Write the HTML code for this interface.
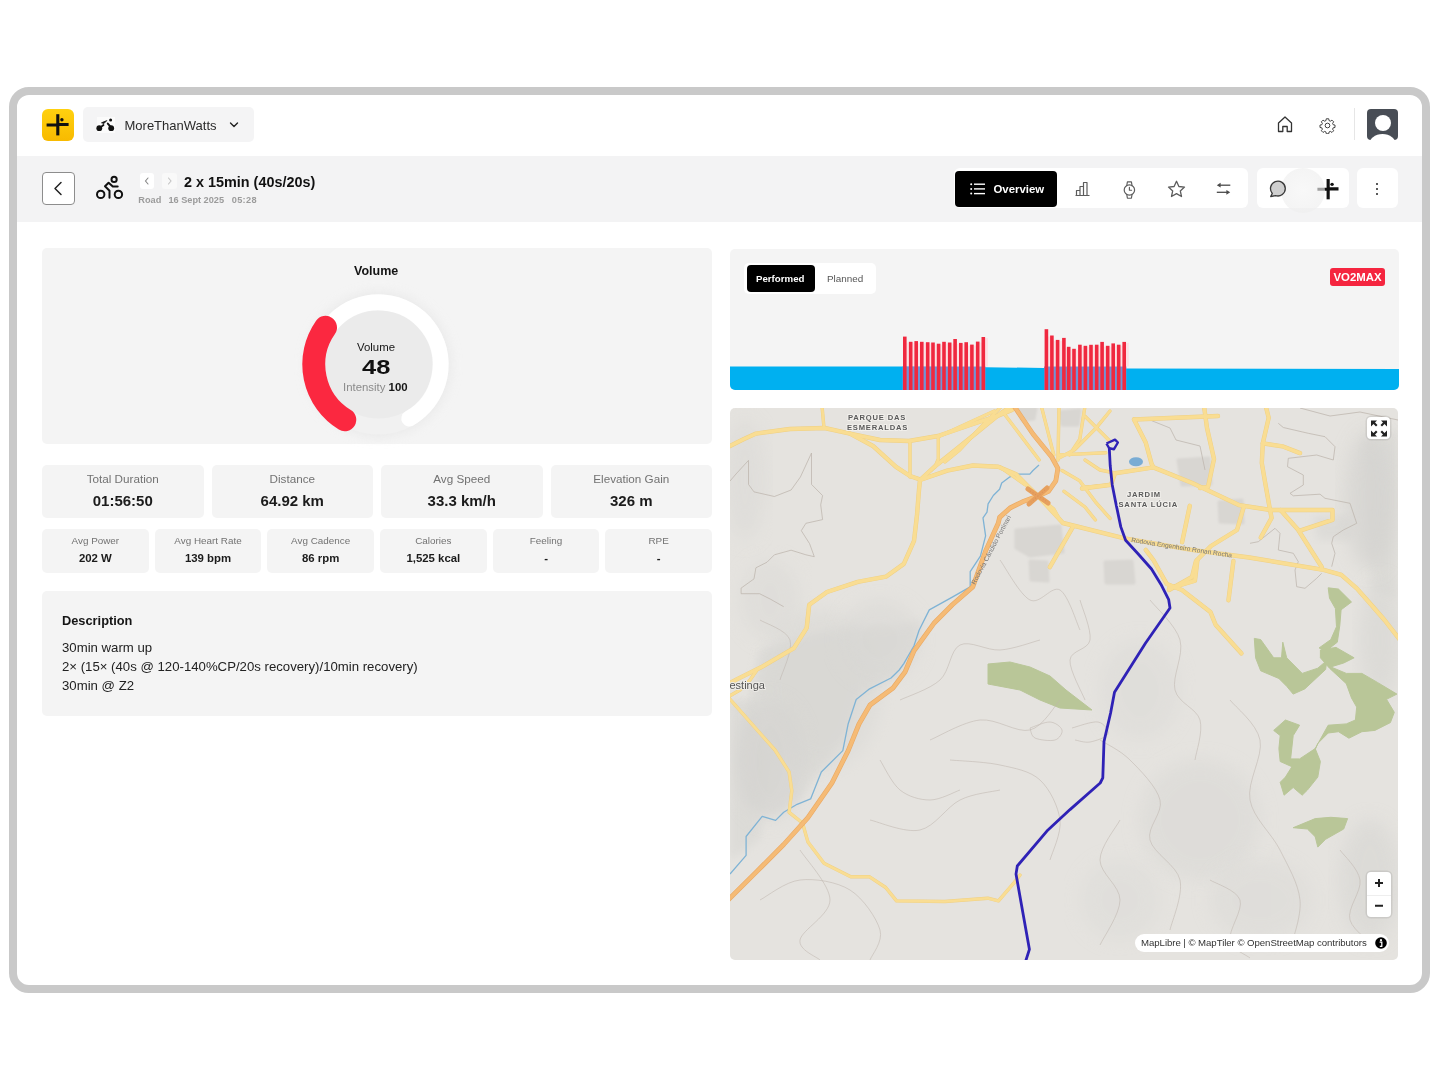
<!DOCTYPE html>
<html><head><meta charset="utf-8">
<style>
*{box-sizing:border-box;margin:0;padding:0}
html,body{width:1440px;height:1080px;overflow:hidden;background:#fff;font-family:"Liberation Sans",Arial,sans-serif;color:#1b1b1b}
.a{position:absolute}
#frame{left:9px;top:87px;width:1421px;height:906px;border:8px solid #c9c9c9;border-radius:20px;background:#fff}
.card{background:#f4f4f4;border-radius:5px}
.t{white-space:nowrap;line-height:1}
.sc .l{position:absolute;left:0;right:0;text-align:center;color:#727272;white-space:nowrap;line-height:1}
.sc .v{position:absolute;left:0;right:0;text-align:center;color:#1b1b1b;font-weight:700;white-space:nowrap;line-height:1}
</style></head><body>
<div id="frame" class="a"></div>

<!-- header -->
<div class="a" style="left:42px;top:109px;width:31.5px;height:31.5px;border-radius:6px;background:linear-gradient(#ffd10f,#f8ba00)"></div>
<svg class="a" style="left:42px;top:109px" width="32" height="32" viewBox="0 0 32 32">
 <path d="M15.8 5.2 V26.4" stroke="#111" stroke-width="3.1" fill="none"/>
 <path d="M4.6 15.9 H15 M16.5 15.5 H26.6" stroke="#111" stroke-width="3" fill="none"/>
 <circle cx="19.9" cy="10.8" r="1.7" fill="#111"/>
</svg>

<div class="a" style="left:83px;top:107px;width:171px;height:35px;border-radius:5px;background:#f4f4f5"></div>
<div class="a" style="left:97px;top:117px;width:18px;height:16px;background:#fbfbfb"></div>
<svg class="a" style="left:94px;top:116px" width="22" height="18" viewBox="94 116 22 18">
 <circle cx="99.3" cy="128.2" r="2.9" fill="#111"/><circle cx="111.2" cy="128.2" r="2.9" fill="#111"/>
 <circle cx="110.6" cy="120" r="1.5" fill="#111"/>
 <path d="M101.5 122.8 L106.8 120.6 L104 123.5 Z" fill="#111" stroke="#111" stroke-width="0.8" stroke-linejoin="round"/>
 <path d="M99.3 128.2 L103.5 125" stroke="#111" stroke-width="1.8" stroke-linecap="round"/>
 <path d="M107.8 123.6 L110 126.2" stroke="#111" stroke-width="2" stroke-linecap="round"/>
</svg>
<div class="a t" style="left:124.5px;top:118.6px;font-size:13px;color:#2a2a2a">MoreThanWatts</div>
<svg class="a" style="left:229px;top:121px" width="10" height="8" viewBox="0 0 10 8"><path d="M1.5 2 L5 5.5 L8.5 2" stroke="#222" stroke-width="1.4" fill="none" stroke-linecap="round" stroke-linejoin="round"/></svg>

<svg class="a" style="left:1276px;top:115px" width="18" height="18" viewBox="0 0 18 18"><path d="M2.5 16.5 V8 L9 2 L15.5 8 V16.5 H11.2 V11.5 H6.8 V16.5 Z" stroke="#333" stroke-width="1.3" fill="none" stroke-linejoin="round"/></svg>
<svg class="a" style="left:1318.5px;top:116.5px" width="17" height="17" viewBox="0 0 24 24"><path d="M10.3 2.5h3.4l.5 2.6 1.9.8 2.2-1.5 2.4 2.4-1.5 2.2.8 1.9 2.6.5v3.4l-2.6.5-.8 1.9 1.5 2.2-2.4 2.4-2.2-1.5-1.9.8-.5 2.6h-3.4l-.5-2.6-1.9-.8-2.2 1.5-2.4-2.4 1.5-2.2-.8-1.9-2.6-.5v-3.4l2.6-.5.8-1.9-1.5-2.2 2.4-2.4 2.2 1.5 1.9-.8z" stroke="#333" stroke-width="1.3" fill="none" stroke-linejoin="round"/><circle cx="12" cy="12" r="3.3" stroke="#333" stroke-width="1.3" fill="none"/></svg>
<div class="a" style="left:1354px;top:108px;width:1px;height:32px;background:#e6e6e6"></div>
<div class="a" style="left:1367px;top:109px;width:31px;height:31px;border-radius:4px;background:#484d55;overflow:hidden">
 <div class="a" style="left:8px;top:6px;width:16px;height:16px;border-radius:50%;background:#fff"></div>
 <div class="a" style="left:2px;top:25px;width:27px;height:22px;border-radius:50%;background:#fff"></div>
</div>

<!-- subheader band -->
<div class="a" style="left:17px;top:155.5px;width:1405px;height:66.5px;background:#f3f3f4"></div>
<div class="a" style="left:42px;top:172px;width:33px;height:33px;border:1.2px solid #8d8d8d;border-radius:4px;background:#fff"></div>
<svg class="a" style="left:42px;top:172px" width="33" height="33" viewBox="0 0 33 33"><path d="M19 10.5 L13 16.5 L19 22.5" stroke="#222" stroke-width="1.5" fill="none" stroke-linecap="round" stroke-linejoin="round"/></svg>
<svg class="a" style="left:94px;top:174px" width="30" height="28" viewBox="94 174 30 28">
 <circle cx="100.7" cy="194.4" r="3.7" stroke="#111" stroke-width="2" fill="none"/>
 <circle cx="118.4" cy="194.4" r="3.7" stroke="#111" stroke-width="2" fill="none"/>
 <circle cx="114.1" cy="179.4" r="2.6" stroke="#111" stroke-width="2" fill="none"/>
 <path d="M109.5 197.7 V190.8 L105 186.3 L108.6 182.7 L112.8 186.6 H117.7" stroke="#111" stroke-width="2" fill="none" stroke-linecap="round" stroke-linejoin="round"/>
</svg>
<div class="a" style="left:140px;top:173px;width:14px;height:16px;border-radius:3px;background:#fff"></div>
<svg class="a" style="left:140px;top:173px" width="14" height="16" viewBox="0 0 14 16"><path d="M8 5 L5.5 8 L8 11" stroke="#888" stroke-width="1.1" fill="none" stroke-linecap="round"/></svg>
<div class="a" style="left:162px;top:173px;width:15px;height:16px;border-radius:3px;background:#f9f9f9"></div>
<svg class="a" style="left:162px;top:173px" width="15" height="16" viewBox="0 0 15 16"><path d="M6.5 5 L9 8 L6.5 11" stroke="#c4c4c4" stroke-width="1.1" fill="none" stroke-linecap="round"/></svg>
<div class="a t" style="left:184px;top:175px;font-size:14.4px;font-weight:700;color:#111">2 x 15min (40s/20s)</div>
<div class="a t" style="left:138.3px;top:195.6px;font-size:9.2px;font-weight:700;color:#9b9b9b">Road</div><div class="a t" style="left:168.4px;top:195.6px;font-size:9.2px;font-weight:700;color:#9b9b9b">16 Sept 2025</div><div class="a t" style="left:231.8px;top:195.6px;font-size:9.2px;font-weight:700;color:#9b9b9b;letter-spacing:0.3px">05:28</div>

<!-- tabs -->
<div class="a" style="left:954px;top:168px;width:294px;height:40px;border-radius:6px;background:#fff"></div>
<div class="a" style="left:955px;top:171px;width:102px;height:35.5px;border-radius:4px;background:#000"></div>
<svg class="a" style="left:969px;top:181px" width="18" height="16" viewBox="0 0 18 16">
 <g fill="#fff"><circle cx="2.2" cy="3.2" r="1"/><circle cx="2.2" cy="7.9" r="1"/><circle cx="2.2" cy="12.6" r="1"/></g>
 <g stroke="#fff" stroke-width="1.4"><path d="M5 3.2 H16"/><path d="M5 7.9 H16"/><path d="M5 12.6 H16"/></g>
</svg>
<div class="a t" style="left:993.5px;top:184px;font-size:11.4px;font-weight:700;color:#fff">Overview</div>
<svg class="a" style="left:1074px;top:181px" width="17" height="16" viewBox="0 0 17 16"><path d="M1.5 14.5 H15.5 M2.5 14.5 V9.5 H6 V14.5 M6 14.5 V5.5 H9.5 V14.5 M9.5 14.5 V1.5 H13 V14.5" stroke="#5c5c5c" stroke-width="1.2" fill="none" stroke-linejoin="round"/></svg>
<svg class="a" style="left:1121px;top:179.5px" width="16" height="20" viewBox="0 0 16 20"><circle cx="8.4" cy="10" r="5.2" stroke="#5c5c5c" stroke-width="1.2" fill="none"/><path d="M5.7 5.8 L6.4 1.8 H10.4 L11.1 5.8 M5.7 14.2 L6.4 18.2 H10.4 L11.1 14.2 M8.4 7.4 V10.2 H10.6" stroke="#5c5c5c" stroke-width="1.15" fill="none" stroke-linejoin="round" stroke-linecap="round"/></svg>
<svg class="a" style="left:1167px;top:180px" width="19" height="18" viewBox="0 0 19 18"><path d="M9.5 1.3 L11.9 6.5 L17.5 7.1 L13.3 10.9 L14.5 16.5 L9.5 13.6 L4.5 16.5 L5.7 10.9 L1.5 7.1 L7.1 6.5 Z" stroke="#5c5c5c" stroke-width="1.3" fill="none" stroke-linejoin="round"/></svg>
<svg class="a" style="left:1215px;top:182px" width="17" height="15" viewBox="0 0 17 15"><path d="M15.3 3.2 H4" stroke="#4a4a4a" stroke-width="1.3"/><path d="M1.8 3.2 L5.6 0.8 V5.6 Z" fill="#4a4a4a"/><path d="M1.8 10.3 H13" stroke="#4a4a4a" stroke-width="1.3"/><path d="M15.2 10.3 L11.4 7.9 V12.7 Z" fill="#4a4a4a"/></svg>

<div class="a" style="left:1257px;top:168px;width:92px;height:40px;border-radius:6px;background:#fff"></div>
<!--chat-->

<svg class="a" style="left:1312.6px;top:173.7px" width="30.7" height="30.7" viewBox="0 0 32 32">
 <path d="M15.8 5.2 V26.4" stroke="#111" stroke-width="3.3" fill="none"/>
 <path d="M4.6 15.9 H15 M16.5 15.5 H26.6" stroke="#111" stroke-width="3.2" fill="none"/>
 <circle cx="19.9" cy="10.8" r="1.8" fill="#111"/>
</svg>
<div class="a" style="left:1281px;top:168px;width:44px;height:45px;border-radius:50%;background:radial-gradient(circle,rgba(244,244,244,0.62) 0%,rgba(238,238,238,0.65) 72%,rgba(215,215,215,0.8) 100%)"></div>
<svg class="a" style="left:1262px;top:175px" width="30" height="26" viewBox="1262 175 30 26"><path d="M1272.3 193.4 A7.4 7.4 0 1 1 1275.6 195.6 L1270.7 196.5 Z" stroke="#3a3a3a" stroke-width="1.3" fill="#cfcfcf" stroke-linejoin="round"/></svg>
<div class="a" style="left:1357px;top:168px;width:41px;height:40px;border-radius:6px;background:#fff"></div>
<div class="a" style="left:1375.5px;top:182.5px;width:2px;height:2px;border-radius:1px;background:#222;box-shadow:0 5px 0 #222,0 10px 0 #222"></div>

<!-- LEFT COLUMN -->
<div class="a card" style="left:42px;top:248px;width:670px;height:196px"></div>
<div class="a t" style="left:354px;top:265px;font-size:12.5px;font-weight:700;color:#141414">Volume</div>
<!-- gauge -->
<svg class="a" style="left:288px;top:274px" width="182" height="182" viewBox="0 0 182 182">
 <defs><filter id="gs" x="-30%" y="-30%" width="160%" height="160%"><feGaussianBlur stdDeviation="6"/></filter></defs>
 <circle cx="90.5" cy="90.5" r="72" fill="#e4e4e4" filter="url(#gs)" opacity="0.7"/>
 <circle cx="90.5" cy="90.5" r="70" fill="#f1f1f1"/>
 <circle cx="90.5" cy="90.5" r="54" fill="#ebebeb"/>
 <path d="M52.21 139.51 A62.2 62.2 0 1 1 121.32 144.53" stroke="#fff" stroke-width="16" fill="none" stroke-linecap="round"/>
<path d="M56.79 145.72 A64.7 64.7 0 0 1 37.50 53.39" stroke="#fb2840" stroke-width="23" fill="none" stroke-linecap="round"/>
</svg>
<div class="a t" style="left:357px;top:342px;font-size:11.4px;color:#161616">Volume</div>
<div class="a t" style="left:362px;top:357.5px;font-size:19.6px;font-weight:700;color:#111;transform:scaleX(1.3);transform-origin:0 0">48</div>
<div class="a t" style="left:343px;top:382px;font-size:11.4px;color:#8a8a8a">Intensity <span style="color:#161616;font-weight:700">100</span></div>

<!-- stat cards row 1 -->
<div class="a card sc" style="left:42px;top:464.5px;width:161.5px;height:53px"><div class="l" style="top:8.3px;font-size:11.7px">Total Duration</div><div class="v" style="top:28.3px;font-size:15px">01:56:50</div></div>
<div class="a card sc" style="left:211.5px;top:464.5px;width:161.5px;height:53px"><div class="l" style="top:8.3px;font-size:11.7px">Distance</div><div class="v" style="top:28.3px;font-size:15px">64.92 km</div></div>
<div class="a card sc" style="left:381px;top:464.5px;width:161.5px;height:53px"><div class="l" style="top:8.3px;font-size:11.7px">Avg Speed</div><div class="v" style="top:28.3px;font-size:15px">33.3 km/h</div></div>
<div class="a card sc" style="left:550.5px;top:464.5px;width:161.5px;height:53px"><div class="l" style="top:8.3px;font-size:11.7px">Elevation Gain</div><div class="v" style="top:28.3px;font-size:15px">326 m</div></div>
<!-- row 2 -->
<div class="a card sc" style="left:42px;top:528.5px;width:106.7px;height:44px"><div class="l" style="top:7.5px;font-size:9.9px">Avg Power</div><div class="v" style="top:24.2px;font-size:11.4px">202 W</div></div>
<div class="a card sc" style="left:154.7px;top:528.5px;width:106.7px;height:44px"><div class="l" style="top:7.5px;font-size:9.9px">Avg Heart Rate</div><div class="v" style="top:24.2px;font-size:11.4px">139 bpm</div></div>
<div class="a card sc" style="left:267.3px;top:528.5px;width:106.7px;height:44px"><div class="l" style="top:7.5px;font-size:9.9px">Avg Cadence</div><div class="v" style="top:24.2px;font-size:11.4px">86 rpm</div></div>
<div class="a card sc" style="left:380px;top:528.5px;width:106.7px;height:44px"><div class="l" style="top:7.5px;font-size:9.9px">Calories</div><div class="v" style="top:24.2px;font-size:11.4px">1,525 kcal</div></div>
<div class="a card sc" style="left:492.7px;top:528.5px;width:106.7px;height:44px"><div class="l" style="top:7.5px;font-size:9.9px">Feeling</div><div class="v" style="top:24.2px;font-size:11.4px">-</div></div>
<div class="a card sc" style="left:605.3px;top:528.5px;width:106.7px;height:44px"><div class="l" style="top:7.5px;font-size:9.9px">RPE</div><div class="v" style="top:24.2px;font-size:11.4px">-</div></div>

<!-- description -->
<div class="a card" style="left:42px;top:590.5px;width:670px;height:125px"></div>
<div class="a t" style="left:62px;top:614.8px;font-size:12.8px;font-weight:700;color:#151515">Description</div>
<div class="a" style="left:62px;top:639.3px;font-size:13.2px;line-height:18.7px;color:#222;white-space:nowrap">30min warm up<br>2× (15× (40s @ 120-140%CP/20s recovery)/10min recovery)<br>30min @ Z2</div>

<!-- RIGHT COLUMN: chart -->
<div class="a card" style="left:730px;top:248.5px;width:669px;height:141px;overflow:hidden;border-radius:5px">
<svg class="a" style="left:0;top:0" width="669" height="141" viewBox="730 248.5 669 141">
<polygon points="730,366 902,366 986,366.8 1044,367.4 1127,368 1399,368.4 1399,390 730,390" fill="#00b0f0"/>
<rect x="906.4" y="342.3" width="3" height="23.7" fill="#fbe1e5"/>
<rect x="912.3" y="342.3" width="3" height="23.7" fill="#fbe1e5"/>
<rect x="917.8" y="342.3" width="3" height="23.7" fill="#fbe1e5"/>
<rect x="923.4" y="342.7" width="3" height="23.3" fill="#fbe1e5"/>
<rect x="929.3" y="343" width="3" height="23" fill="#fbe1e5"/>
<rect x="934.6" y="344.2" width="3" height="21.8" fill="#fbe1e5"/>
<rect x="940.2" y="344.2" width="3" height="21.8" fill="#fbe1e5"/>
<rect x="945.6" y="343" width="3" height="23" fill="#fbe1e5"/>
<rect x="951.3" y="343" width="3" height="23" fill="#fbe1e5"/>
<rect x="956.7" y="343.4" width="3" height="22.6" fill="#fbe1e5"/>
<rect x="962.4" y="343.4" width="3" height="22.6" fill="#fbe1e5"/>
<rect x="967.8" y="345.1" width="3" height="20.9" fill="#fbe1e5"/>
<rect x="973.5" y="345.1" width="3" height="20.9" fill="#fbe1e5"/>
<rect x="979.3" y="342.1" width="3" height="23.9" fill="#fbe1e5"/>
<rect x="984.9" y="337.5" width="3" height="28.5" fill="#fbe1e5"/>
<rect x="902.5" y="366" width="83" height="24" fill="#7193d6"/>
<rect x="903" y="336.1" width="3.6" height="53.9" fill="#f0283f"/>
<rect x="908.9" y="341.3" width="3.6" height="48.7" fill="#f0283f"/>
<rect x="914.4" y="340.6" width="3.6" height="49.4" fill="#f0283f"/>
<rect x="920" y="341.3" width="3.6" height="48.7" fill="#f0283f"/>
<rect x="925.9" y="341.7" width="3.6" height="48.3" fill="#f0283f"/>
<rect x="931.2" y="342" width="3.6" height="48" fill="#f0283f"/>
<rect x="936.8" y="343.2" width="3.6" height="46.8" fill="#f0283f"/>
<rect x="942.2" y="341.3" width="3.6" height="48.7" fill="#f0283f"/>
<rect x="947.9" y="342" width="3.6" height="48" fill="#f0283f"/>
<rect x="953.3" y="338.5" width="3.6" height="51.5" fill="#f0283f"/>
<rect x="959" y="342.4" width="3.6" height="47.6" fill="#f0283f"/>
<rect x="964.4" y="341.7" width="3.6" height="48.3" fill="#f0283f"/>
<rect x="970.1" y="344.1" width="3.6" height="45.9" fill="#f0283f"/>
<rect x="975.9" y="341.1" width="3.6" height="48.9" fill="#f0283f"/>
<rect x="981.5" y="336.5" width="3.6" height="53.5" fill="#f0283f"/>
<rect x="1048" y="336" width="3" height="30" fill="#fbe1e5"/>
<rect x="1053.5" y="340.4" width="3" height="25.6" fill="#fbe1e5"/>
<rect x="1059.2" y="340.4" width="3" height="25.6" fill="#fbe1e5"/>
<rect x="1065.5" y="347.3" width="3" height="18.7" fill="#fbe1e5"/>
<rect x="1070.3" y="349.3" width="3" height="16.7" fill="#fbe1e5"/>
<rect x="1075.6" y="349.3" width="3" height="16.7" fill="#fbe1e5"/>
<rect x="1081.5" y="346.3" width="3" height="19.7" fill="#fbe1e5"/>
<rect x="1087" y="346.3" width="3" height="19.7" fill="#fbe1e5"/>
<rect x="1092.6" y="345.3" width="3" height="20.7" fill="#fbe1e5"/>
<rect x="1098.3" y="345.2" width="3" height="20.8" fill="#fbe1e5"/>
<rect x="1103.7" y="346.3" width="3" height="19.7" fill="#fbe1e5"/>
<rect x="1109.3" y="346.3" width="3" height="19.7" fill="#fbe1e5"/>
<rect x="1114.8" y="345.2" width="3" height="20.8" fill="#fbe1e5"/>
<rect x="1120.3" y="345.2" width="3" height="20.8" fill="#fbe1e5"/>
<rect x="1125.8" y="342.4" width="3" height="23.6" fill="#fbe1e5"/>
<rect x="1044.1" y="366" width="82.3" height="24" fill="#7193d6"/>
<rect x="1044.6" y="328.7" width="3.6" height="61.3" fill="#f0283f"/>
<rect x="1050.1" y="335" width="3.6" height="55" fill="#f0283f"/>
<rect x="1055.8" y="339.4" width="3.6" height="50.6" fill="#f0283f"/>
<rect x="1062.1" y="337.4" width="3.6" height="52.6" fill="#f0283f"/>
<rect x="1066.9" y="346.3" width="3.6" height="43.7" fill="#f0283f"/>
<rect x="1072.2" y="348.3" width="3.6" height="41.7" fill="#f0283f"/>
<rect x="1078.1" y="344.2" width="3.6" height="45.8" fill="#f0283f"/>
<rect x="1083.6" y="345.3" width="3.6" height="44.7" fill="#f0283f"/>
<rect x="1089.2" y="344.3" width="3.6" height="45.7" fill="#f0283f"/>
<rect x="1094.9" y="344.2" width="3.6" height="45.8" fill="#f0283f"/>
<rect x="1100.3" y="341.4" width="3.6" height="48.6" fill="#f0283f"/>
<rect x="1105.9" y="345.3" width="3.6" height="44.7" fill="#f0283f"/>
<rect x="1111.4" y="342.9" width="3.6" height="47.1" fill="#f0283f"/>
<rect x="1116.9" y="344.2" width="3.6" height="45.8" fill="#f0283f"/>
<rect x="1122.4" y="341.4" width="3.6" height="48.6" fill="#f0283f"/>
</svg>
<div class="a" style="left:14px;top:14px;width:132px;height:31.5px;border-radius:5px;background:#fff"></div>
<div class="a" style="left:16.5px;top:16px;width:68px;height:27.5px;border-radius:4px;background:#000"></div>
<div class="a t" style="left:26px;top:25px;font-size:9.7px;font-weight:700;color:#fff">Performed</div>
<div class="a t" style="left:97px;top:25px;font-size:9.9px;color:#555">Planned</div>
<div class="a" style="left:600px;top:19px;width:55px;height:18.5px;border-radius:3px;background:#f5253f"></div>
<div class="a t" style="left:603.5px;top:23px;font-size:11.4px;font-weight:700;color:#fff">VO2MAX</div>
</div>

<!-- MAP -->
<div class="a" style="left:730px;top:408px;width:668px;height:552px;border-radius:5px;overflow:hidden;background:#e5e3df">
<svg class="a" style="left:0;top:0" width="668" height="552" viewBox="730 408 668 552">
<defs><filter id="bl" x="-20%" y="-20%" width="140%" height="140%"><feGaussianBlur stdDeviation="9"/></filter><filter id="bl2" x="-20%" y="-20%" width="140%" height="140%"><feGaussianBlur stdDeviation="4"/></filter><filter id="bl3" x="-20%" y="-20%" width="140%" height="140%"><feGaussianBlur stdDeviation="1.2"/></filter></defs>
<polygon points="760,650 830,630 900,625 922,620 915,650 897,677 858,694 846,735 820,770 800,800 770,816 745,800 738,760 750,700" fill="#d6d5d2" opacity="0.55" filter="url(#bl2)"/>
<polygon points="1365,440 1398,430 1398,600 1372,590 1368,520" fill="#d6d5d2" opacity="0.55" filter="url(#bl2)"/>
<polygon points="1313,517 1350,515 1352,540 1318,540" fill="#d6d5d2" opacity="0.55" filter="url(#bl2)"/>
<polygon points="730,700 755,700 770,760 760,840 730,860" fill="#d6d5d2" opacity="0.55" filter="url(#bl2)"/>
<ellipse cx="820" cy="690" rx="60" ry="80" fill="#d6d5d2" opacity="0.45" filter="url(#bl)"/>
<ellipse cx="770" cy="760" rx="35" ry="60" fill="#d4d3d0" opacity="0.5" filter="url(#bl)"/>
<ellipse cx="880" cy="640" rx="40" ry="40" fill="#d8d7d4" opacity="0.5" filter="url(#bl)"/>
<ellipse cx="745" cy="480" rx="20" ry="60" fill="#d9d8d5" opacity="0.5" filter="url(#bl)"/>
<ellipse cx="1370" cy="500" rx="25" ry="70" fill="#d3d2cf" opacity="0.7" filter="url(#bl)"/>
<ellipse cx="1380" cy="640" rx="20" ry="60" fill="#d6d5d2" opacity="0.6" filter="url(#bl)"/>
<ellipse cx="1200" cy="820" rx="60" ry="60" fill="#dad9d6" opacity="0.6" filter="url(#bl)"/>
<ellipse cx="1140" cy="690" rx="40" ry="50" fill="#dbdad7" opacity="0.5" filter="url(#bl)"/>
<ellipse cx="1370" cy="880" rx="30" ry="60" fill="#d6d5d2" opacity="0.6" filter="url(#bl)"/>
<ellipse cx="1260" cy="900" rx="50" ry="40" fill="#dad9d6" opacity="0.5" filter="url(#bl)"/>
<ellipse cx="1120" cy="900" rx="40" ry="40" fill="#dcdbd8" opacity="0.5" filter="url(#bl)"/>
<ellipse cx="770" cy="600" rx="30" ry="40" fill="#dad9d6" opacity="0.5" filter="url(#bl)"/>
<polygon points="1016,530 1060,526 1063,552 1030,556 1016,548" fill="#d8d6d2" stroke="#d8d6d2" stroke-width="3" stroke-linejoin="round" filter="url(#bl3)"/>
<polygon points="1030,561 1047,562 1048,581 1031,580" fill="#d8d6d2" stroke="#d8d6d2" stroke-width="3" stroke-linejoin="round" filter="url(#bl3)"/>
<polygon points="1105,562 1132,561 1134,583 1106,583" fill="#d8d6d2" stroke="#d8d6d2" stroke-width="3" stroke-linejoin="round" filter="url(#bl3)"/>
<polygon points="1178,460 1209,458 1211,484 1182,485" fill="#d8d6d2" stroke="#d8d6d2" stroke-width="3" stroke-linejoin="round" filter="url(#bl3)"/>
<polygon points="1219,502 1242,500 1243,523 1220,522" fill="#d8d6d2" stroke="#d8d6d2" stroke-width="3" stroke-linejoin="round" filter="url(#bl3)"/>
<polygon points="1018,408 1036,408 1034,419 1022,420" fill="#d8d6d2" stroke="#d8d6d2" stroke-width="3" stroke-linejoin="round" filter="url(#bl3)"/>
<polygon points="1060,412 1080,410 1078,425 1062,425" fill="#d8d6d2" stroke="#d8d6d2" stroke-width="3" stroke-linejoin="round" filter="url(#bl3)"/>
<polygon points="988,664 1010,662 1030,667 1050,676 1066,690 1092,710 1060,708 1040,700 1020,690 988,684" fill="#b9c698" stroke="#b9c698" stroke-width="1" stroke-linejoin="round"/>
<polygon points="1328.2,587.8 1338.5,589.1 1351.5,602 1341.1,609.8 1339.8,625.4 1337.3,642.2 1325.6,651.3 1319.1,647.9 1330.8,639.6 1336.5,626.7 1335.4,608.5 1329.5,598.2" fill="#b9c698" stroke="#b9c698" stroke-width="1" stroke-linejoin="round"/>
<polygon points="1254.3,638.4 1260.7,639.6 1273.7,657.8 1281.5,657.8 1282.8,642.2 1286.7,657.8 1302.2,673.4 1317.8,668.2 1326.9,660.4 1325.6,669.5 1304.8,688.9 1293.2,694.1 1286.7,686.3 1278.9,678.5 1260.7,670.8 1255.6,657.8" fill="#b9c698" stroke="#b9c698" stroke-width="1" stroke-linejoin="round"/>
<polygon points="1320.4,650 1336,647.4 1354.1,657.8 1343.7,663 1330.8,666.9 1346.3,673.4 1361.9,673.4 1377.4,682.4 1396.9,694.1 1386.5,699.3 1394.3,712.3 1390.4,722.6 1374.9,730.4 1361.9,731.7 1348.9,738.2 1338.5,731.7 1328.2,733 1317.8,743.4 1311.3,758.9 1315.2,748.6 1328.2,725.2 1346.3,723.9 1355.4,720 1356.7,707.1 1351.5,698 1346.3,683.7 1329.5,668.2 1320.4,657.8" fill="#b9c698" stroke="#b9c698" stroke-width="1" stroke-linejoin="round"/>
<polygon points="1273.7,730.4 1285.4,720 1299.6,725.2 1293.2,735.6 1290.6,758.9 1299.6,758.9 1315.2,748.6 1320.4,761.5 1317.8,777.1 1307.4,790.1 1302.2,795.2 1293.2,787.5 1284.1,795.2 1280.2,782.3 1285.4,777.1 1291.9,766.7 1280.2,761.5 1278.9,748.6 1280.2,735.6" fill="#b9c698" stroke="#b9c698" stroke-width="1" stroke-linejoin="round"/>
<polygon points="1293.2,827.7 1315.2,818.6 1330.8,817.3 1347.6,818.6 1343.7,829 1325.6,839.3 1317.8,847.1 1315.2,836.7 1307.4,829" fill="#b9c698" stroke="#b9c698" stroke-width="1" stroke-linejoin="round"/>
<path d="M748.5 460.4 L748.5 484.4 L754 491.9 L774.4 496.5 L791.1 490 L800.4 477 L811.5 453 L811.5 484.4 L822.6 495.6 L820.7 504.8 L822.6 519.6 L805.9 523.3 L801.3 530.7 L809.6 543.7 L814.3 556.7 L805.9 554.8 L791.1 550.2 L774.4 554.8 L767 562.2 L755.9 567.8 L754 578.9 L741.1 588.1 L741.1 593.7 L759.6 593.7 L770.7 599.3 L783.7 606.7" stroke="#bdb5ae" stroke-width="0.9" fill="none" opacity="0.85" stroke-linejoin="round"/>
<path d="M748.5 460.4 L736 474 L730 481" stroke="#bdb5ae" stroke-width="0.9" fill="none" opacity="0.85" stroke-linejoin="round"/>
<path d="M1278.3 423.3 L1283.3 427.5 L1308.3 433.3 L1325 436.7 L1335 446.7 L1333.3 460 L1316.7 455 L1288.3 458.3 L1287.5 466.7 L1303.3 475 L1303.3 485 L1290 493.3 L1293.3 495.8 L1320 494.2 L1325 498.3 L1350 503.3 L1356.7 523.3 L1343.3 530 L1333.3 536.7 L1331.7 543.3 L1335 553.3 L1331.7 566.7" stroke="#bdb5ae" stroke-width="0.9" fill="none" opacity="0.85" stroke-linejoin="round"/>
<path d="M1250 543.3 L1258.3 541.7 L1275 528.3 L1280 533.3 L1278.3 550 L1293.3 553.3 L1298.3 561.7 L1295 570 L1296.7 586.7 L1305 588.3 L1316.7 578.3 L1321.7 573.3" stroke="#bdb5ae" stroke-width="0.9" fill="none" opacity="0.85" stroke-linejoin="round"/>
<path d="M1150 420 L1170 428 L1176 440 L1200 446 L1205 470" stroke="#bdb5ae" stroke-width="0.9" fill="none" opacity="0.85" stroke-linejoin="round"/>
<path d="M1300 408 L1330 416 L1360 412 L1398 420" stroke="#bdb5ae" stroke-width="0.9" fill="none" opacity="0.85" stroke-linejoin="round"/>
<path d="M1100 740 C1105 743.3 1120 750 1130 760 C1140 770 1156.7 786.7 1160 800 C1163.3 813.3 1146.7 826.7 1150 840 C1153.3 853.3 1176.7 865 1180 880 C1183.3 895 1171.7 921.7 1170 930" stroke="#bdb5ae" stroke-width="0.9" fill="none" opacity="0.6" stroke-linejoin="round"/>
<path d="M930 740 C938.3 736.7 963.3 721.7 980 720 C996.7 718.3 1016.7 733.3 1030 730 C1043.3 726.7 1055 705 1060 700" stroke="#bdb5ae" stroke-width="0.9" fill="none" opacity="0.6" stroke-linejoin="round"/>
<path d="M870 820 C878.3 821.7 905 833.3 920 830 C935 826.7 946.7 806.7 960 800 C973.3 793.3 993.3 791.7 1000 790" stroke="#bdb5ae" stroke-width="0.9" fill="none" opacity="0.6" stroke-linejoin="round"/>
<path d="M760 900 C766.7 896.7 785 881.7 800 880 C815 878.3 836.7 881.7 850 890 C863.3 898.3 876.7 918.3 880 930 C883.3 941.7 871.7 955 870 960" stroke="#bdb5ae" stroke-width="0.9" fill="none" opacity="0.6" stroke-linejoin="round"/>
<path d="M1000 560 C1005 566.7 1020 595 1030 600 C1040 605 1051.7 585 1060 590 C1068.3 595 1076.7 623.3 1080 630" stroke="#bdb5ae" stroke-width="0.9" fill="none" opacity="0.6" stroke-linejoin="round"/>
<path d="M1080 600 C1081.7 606.7 1091.7 630 1090 640 C1088.3 650 1070.8 650 1070 660 C1069.2 670 1082.5 693.3 1085 700" stroke="#bdb5ae" stroke-width="0.9" fill="none" opacity="0.6" stroke-linejoin="round"/>
<path d="M1030 728 C1033.3 727 1044.7 721.7 1050 722 C1055.3 722.3 1061.2 727 1062 730 C1062.8 733 1059.5 738.7 1055 740 C1050.5 741.3 1039.2 740 1035 738 C1030.8 736 1030.8 729.7 1030 728" stroke="#bdb5ae" stroke-width="0.9" fill="none" opacity="0.6" stroke-linejoin="round"/>
<path d="M1072 728 C1076.3 727 1092 721 1098 722 C1104 723 1109.3 730.7 1108 734 C1106.7 737.3 1095.5 741 1090 742 C1084.5 743 1077.5 740.3 1075 740" stroke="#bdb5ae" stroke-width="0.9" fill="none" opacity="0.6" stroke-linejoin="round"/>
<path d="M1040 640 C1033.3 641.7 1013.3 649.2 1000 650 C986.7 650.8 970 640 960 645 C950 650 950 670.8 940 680 C930 689.2 906.7 696.7 900 700" stroke="#bdb5ae" stroke-width="0.9" fill="none" opacity="0.6" stroke-linejoin="round"/>
<path d="M950 760 C958.3 760.8 985 761.7 1000 765 C1015 768.3 1030 770.8 1040 780 C1050 789.2 1058.3 806.7 1060 820 C1061.7 833.3 1051.7 853.3 1050 860" stroke="#bdb5ae" stroke-width="0.9" fill="none" opacity="0.6" stroke-linejoin="round"/>
<path d="M1150 600 C1155 606.7 1175.8 625 1180 640 C1184.2 655 1171.7 676.7 1175 690 C1178.3 703.3 1196.7 708.3 1200 720 C1203.3 731.7 1195.8 753.3 1195 760" stroke="#bdb5ae" stroke-width="0.9" fill="none" opacity="0.6" stroke-linejoin="round"/>
<path d="M1230 700 C1235 706.7 1256.7 723.3 1260 740 C1263.3 756.7 1246.7 781.7 1250 800 C1253.3 818.3 1271.7 833.3 1280 850 C1288.3 866.7 1298.3 883.3 1300 900 C1301.7 916.7 1291.7 941.7 1290 950" stroke="#bdb5ae" stroke-width="0.9" fill="none" opacity="0.6" stroke-linejoin="round"/>
<path d="M1340 850 C1343.3 855 1358.3 868.3 1360 880 C1361.7 891.7 1346.7 908.3 1350 920 C1353.3 931.7 1375 945 1380 950" stroke="#bdb5ae" stroke-width="0.9" fill="none" opacity="0.6" stroke-linejoin="round"/>
<path d="M1210 880 C1215 883.3 1236.7 890 1240 900 C1243.3 910 1228.3 930.3 1230 940 C1231.7 949.7 1246.7 955 1250 958" stroke="#bdb5ae" stroke-width="0.9" fill="none" opacity="0.6" stroke-linejoin="round"/>
<path d="M1120 820 C1116.7 826.7 1100 846.7 1100 860 C1100 873.3 1120 885.8 1120 900 C1120 914.2 1103.3 937.5 1100 945" stroke="#bdb5ae" stroke-width="0.9" fill="none" opacity="0.6" stroke-linejoin="round"/>
<path d="M800 850 C805 858.3 830 885 830 900 C830 915 801.7 930 800 940 C798.3 950 816.7 956.7 820 960" stroke="#bdb5ae" stroke-width="0.9" fill="none" opacity="0.6" stroke-linejoin="round"/>
<path d="M880 760 C883.3 765 891.7 783.3 900 790 C908.3 796.7 920 800 930 800 C940 800 955 791.7 960 790" stroke="#bdb5ae" stroke-width="0.9" fill="none" opacity="0.6" stroke-linejoin="round"/>
<path d="M760 620 C765 623.3 786.7 630 790 640 C793.3 650 781.7 673.3 780 680" stroke="#bdb5ae" stroke-width="0.9" fill="none" opacity="0.6" stroke-linejoin="round"/>
<path d="M1039 465 L1033 470.5 L1029.8 474.1 L1018.3 474.1 L1010 476.8 L1001.7 483 L999.6 489.3 L993.3 495.5 L988.1 503.8 L987 512.2 L983 517.9 L985.6 535.8 L980.4 556.2 L970.2 571.6 L970.2 586.9 L952.3 597.1 L929.3 609.9 L919.1 630.3 L914 645.7 L903.8 663.6 L899.2 670 L891 678 L869.6 688.8 L856.2 699.5 L848.2 723.7 L842.8 750.6 L821.3 772 L810.6 798.9 L797.1 804.3 L783.7 812.3 L775.6 820.4 L762.2 816.3 L746.1 836.5 L746.1 855.3 L730 874" stroke="#7fb3d5" stroke-width="1.3" fill="none" stroke-linejoin="round"/>
<path d="M730 446 L744 439 L756 433.6 L790 429 L824.6 428 L850 433.6 L873 446 L896 466.8 L910 476 L920.4 479.6" stroke="#efd084" stroke-width="4.4" fill="none" stroke-linecap="round" stroke-linejoin="round"/>
<path d="M920 480 L919 489.8 L917 515 L914 540.9 L903.8 563.9 L885.9 576.7 L857.8 581.8 L827 592 L809.2 604.8 L806.7 627.8 L793.9 648.2 L763.2 666.1 L737.7 678.9 L728 684" stroke="#efd084" stroke-width="4.4" fill="none" stroke-linecap="round" stroke-linejoin="round"/>
<path d="M920 480 L934.4 466.8 L960 446.3 L980 430 L1000.9 413.1 L1012 406" stroke="#efd084" stroke-width="4.4" fill="none" stroke-linecap="round" stroke-linejoin="round"/>
<path d="M920 480 L947.2 470.6 L972.8 465.5 L998.3 466.8 L1016.2 474.4 L1029 487.2 L1038 496" stroke="#efd084" stroke-width="4.4" fill="none" stroke-linecap="round" stroke-linejoin="round"/>
<path d="M850 433.6 L880 440 L909 441 L938 436 L970 425 L998 415.7 L1012 410" stroke="#efd084" stroke-width="4.4" fill="none" stroke-linecap="round" stroke-linejoin="round"/>
<path d="M1038 496 L1063 523 L1124.6 538.4 L1191.7 549.9 L1249.2 557.5 L1323.6 569.9 L1341.3 574.8 L1357 588.6 L1370.8 604.3 L1384.5 620 L1400 640" stroke="#efd084" stroke-width="4.4" fill="none" stroke-linecap="round" stroke-linejoin="round"/>
<path d="M1082 488.5 L1111 484.7 L1115 473.2 L1153.4 467.4 L1191.7 482.8 L1239.3 505.2 L1270.7 510 L1332.5 510 L1332.5 519.9 L1300.1 530.7" stroke="#efd084" stroke-width="4.4" fill="none" stroke-linecap="round" stroke-linejoin="round"/>
<path d="M1134 419.5 L1218 416" stroke="#efd084" stroke-width="4.4" fill="none" stroke-linecap="round" stroke-linejoin="round"/>
<path d="M1204 406 L1207 428 L1214 459 L1208 487 L1200 488" stroke="#efd084" stroke-width="4.4" fill="none" stroke-linecap="round" stroke-linejoin="round"/>
<path d="M1265.7 406 L1268.7 417.8 L1262.8 443.3 L1261.8 463 L1264.8 480.6 L1269.7 508.1 L1271.6 517.9 L1260.8 537.5" stroke="#efd084" stroke-width="4.4" fill="none" stroke-linecap="round" stroke-linejoin="round"/>
<path d="M1262.8 443.3 L1282.4 446.3 L1300 453.1" stroke="#efd084" stroke-width="4.4" fill="none" stroke-linecap="round" stroke-linejoin="round"/>
<path d="M1280.5 510 L1298.1 529.7 L1321.7 567" stroke="#efd084" stroke-width="4.4" fill="none" stroke-linecap="round" stroke-linejoin="round"/>
<path d="M1244 506 L1237 530 L1211 546 L1196 561 L1192 577 L1169 590" stroke="#efd084" stroke-width="4.4" fill="none" stroke-linecap="round" stroke-linejoin="round"/>
<path d="M1145.7 549.9 L1153.4 560 L1166.8 584 L1182 590 L1210.4 611.9 L1215.6 624.8 L1241.5 653.4" stroke="#efd084" stroke-width="4.4" fill="none" stroke-linecap="round" stroke-linejoin="round"/>
<path d="M1134 419.5 L1145.7 442.5 L1151.5 463.6 L1153.4 467.4" stroke="#efd084" stroke-width="4.4" fill="none" stroke-linecap="round" stroke-linejoin="round"/>
<path d="M1072.9 526.9 L1049.8 567.1" stroke="#efd084" stroke-width="4.4" fill="none" stroke-linecap="round" stroke-linejoin="round"/>
<path d="M1233.4 561 L1228.5 600.3" stroke="#efd084" stroke-width="4.4" fill="none" stroke-linecap="round" stroke-linejoin="round"/>
<path d="M1169 588.5 L1194.9 580.7 L1197.4 560" stroke="#efd084" stroke-width="4.4" fill="none" stroke-linecap="round" stroke-linejoin="round"/>
<path d="M1189.8 505.8 L1182.1 542.2" stroke="#efd084" stroke-width="4.4" fill="none" stroke-linecap="round" stroke-linejoin="round"/>
<path d="M910 441 L910 477" stroke="#efd084" stroke-width="3.4" fill="none" stroke-linecap="round" stroke-linejoin="round"/>
<path d="M938.3 436 L938.3 459 L935 467" stroke="#efd084" stroke-width="3.4" fill="none" stroke-linecap="round" stroke-linejoin="round"/>
<path d="M757 670 L750 680 L740 690 L728 697" stroke="#efd084" stroke-width="3.4" fill="none" stroke-linecap="round" stroke-linejoin="round"/>
<path d="M728 697 L751.5 723.7 L775 750 L789.1 772 L791.8 790.8 L789.1 812.3 L802.5 823 L807.9 841.9 L824 863.3 L850.8 876.8 L869.6 876.8 L885.7 887.5 L896.5 900.9 L944.8 901.5 L987.8 898.2 L998.5 900.9 L1014.6 882.1 L1020 875" stroke="#efd084" stroke-width="3.4" fill="none" stroke-linecap="round" stroke-linejoin="round"/>
<path d="M822 406 L824 428" stroke="#efd084" stroke-width="3.4" fill="none" stroke-linecap="round" stroke-linejoin="round"/>
<path d="M994.4 411 L960 426.8 L940 436" stroke="#efd084" stroke-width="3.4" fill="none" stroke-linecap="round" stroke-linejoin="round"/>
<path d="M1001.7 406 L980 428 L960 449.7 L945 462" stroke="#efd084" stroke-width="3.4" fill="none" stroke-linecap="round" stroke-linejoin="round"/>
<path d="M1003.8 413.2 L1039.2 460" stroke="#efd084" stroke-width="3.4" fill="none" stroke-linecap="round" stroke-linejoin="round"/>
<path d="M1041.3 406 L1053.8 454.9" stroke="#efd084" stroke-width="3.4" fill="none" stroke-linecap="round" stroke-linejoin="round"/>
<path d="M1059 406 L1058 460" stroke="#efd084" stroke-width="3.4" fill="none" stroke-linecap="round" stroke-linejoin="round"/>
<path d="M1085 406 L1079.8 439.3 L1069.4 454.9" stroke="#efd084" stroke-width="3.4" fill="none" stroke-linecap="round" stroke-linejoin="round"/>
<path d="M1110 411 L1095.4 428.8 L1074.6 449.7 L1059 458" stroke="#efd084" stroke-width="3.4" fill="none" stroke-linecap="round" stroke-linejoin="round"/>
<path d="M1085 416.3 L1110 441.3" stroke="#efd084" stroke-width="3.4" fill="none" stroke-linecap="round" stroke-linejoin="round"/>
<path d="M1059 454.9 L1105.8 452.8" stroke="#efd084" stroke-width="3.4" fill="none" stroke-linecap="round" stroke-linejoin="round"/>
<path d="M1085 487.2 L1110 485" stroke="#efd084" stroke-width="3.4" fill="none" stroke-linecap="round" stroke-linejoin="round"/>
<path d="M1062 470.5 L1079.8 480.9 L1095.4 501.8 L1110 518.4" stroke="#efd084" stroke-width="3.4" fill="none" stroke-linecap="round" stroke-linejoin="round"/>
<path d="M1064 491.3 L1085 507 L1095.4 520" stroke="#efd084" stroke-width="3.4" fill="none" stroke-linecap="round" stroke-linejoin="round"/>
<path d="M1038 496 L1053.8 509 L1060 520" stroke="#efd084" stroke-width="3.4" fill="none" stroke-linecap="round" stroke-linejoin="round"/>
<path d="M1000 467 L1025 484.7" stroke="#efd084" stroke-width="3.4" fill="none" stroke-linecap="round" stroke-linejoin="round"/>
<path d="M1085 460 L1100 470 L1115 473" stroke="#efd084" stroke-width="3.4" fill="none" stroke-linecap="round" stroke-linejoin="round"/>
<path d="M730 446 L744 439 L756 433.6 L790 429 L824.6 428 L850 433.6 L873 446 L896 466.8 L910 476 L920.4 479.6" stroke="#f9dd93" stroke-width="3.5" fill="none" stroke-linecap="round" stroke-linejoin="round"/>
<path d="M920 480 L919 489.8 L917 515 L914 540.9 L903.8 563.9 L885.9 576.7 L857.8 581.8 L827 592 L809.2 604.8 L806.7 627.8 L793.9 648.2 L763.2 666.1 L737.7 678.9 L728 684" stroke="#f9dd93" stroke-width="3.5" fill="none" stroke-linecap="round" stroke-linejoin="round"/>
<path d="M920 480 L934.4 466.8 L960 446.3 L980 430 L1000.9 413.1 L1012 406" stroke="#f9dd93" stroke-width="3.5" fill="none" stroke-linecap="round" stroke-linejoin="round"/>
<path d="M920 480 L947.2 470.6 L972.8 465.5 L998.3 466.8 L1016.2 474.4 L1029 487.2 L1038 496" stroke="#f9dd93" stroke-width="3.5" fill="none" stroke-linecap="round" stroke-linejoin="round"/>
<path d="M850 433.6 L880 440 L909 441 L938 436 L970 425 L998 415.7 L1012 410" stroke="#f9dd93" stroke-width="3.5" fill="none" stroke-linecap="round" stroke-linejoin="round"/>
<path d="M1038 496 L1063 523 L1124.6 538.4 L1191.7 549.9 L1249.2 557.5 L1323.6 569.9 L1341.3 574.8 L1357 588.6 L1370.8 604.3 L1384.5 620 L1400 640" stroke="#f9dd93" stroke-width="3.5" fill="none" stroke-linecap="round" stroke-linejoin="round"/>
<path d="M1082 488.5 L1111 484.7 L1115 473.2 L1153.4 467.4 L1191.7 482.8 L1239.3 505.2 L1270.7 510 L1332.5 510 L1332.5 519.9 L1300.1 530.7" stroke="#f9dd93" stroke-width="3.5" fill="none" stroke-linecap="round" stroke-linejoin="round"/>
<path d="M1134 419.5 L1218 416" stroke="#f9dd93" stroke-width="3.5" fill="none" stroke-linecap="round" stroke-linejoin="round"/>
<path d="M1204 406 L1207 428 L1214 459 L1208 487 L1200 488" stroke="#f9dd93" stroke-width="3.5" fill="none" stroke-linecap="round" stroke-linejoin="round"/>
<path d="M1265.7 406 L1268.7 417.8 L1262.8 443.3 L1261.8 463 L1264.8 480.6 L1269.7 508.1 L1271.6 517.9 L1260.8 537.5" stroke="#f9dd93" stroke-width="3.5" fill="none" stroke-linecap="round" stroke-linejoin="round"/>
<path d="M1262.8 443.3 L1282.4 446.3 L1300 453.1" stroke="#f9dd93" stroke-width="3.5" fill="none" stroke-linecap="round" stroke-linejoin="round"/>
<path d="M1280.5 510 L1298.1 529.7 L1321.7 567" stroke="#f9dd93" stroke-width="3.5" fill="none" stroke-linecap="round" stroke-linejoin="round"/>
<path d="M1244 506 L1237 530 L1211 546 L1196 561 L1192 577 L1169 590" stroke="#f9dd93" stroke-width="3.5" fill="none" stroke-linecap="round" stroke-linejoin="round"/>
<path d="M1145.7 549.9 L1153.4 560 L1166.8 584 L1182 590 L1210.4 611.9 L1215.6 624.8 L1241.5 653.4" stroke="#f9dd93" stroke-width="3.5" fill="none" stroke-linecap="round" stroke-linejoin="round"/>
<path d="M1134 419.5 L1145.7 442.5 L1151.5 463.6 L1153.4 467.4" stroke="#f9dd93" stroke-width="3.5" fill="none" stroke-linecap="round" stroke-linejoin="round"/>
<path d="M1072.9 526.9 L1049.8 567.1" stroke="#f9dd93" stroke-width="3.5" fill="none" stroke-linecap="round" stroke-linejoin="round"/>
<path d="M1233.4 561 L1228.5 600.3" stroke="#f9dd93" stroke-width="3.5" fill="none" stroke-linecap="round" stroke-linejoin="round"/>
<path d="M1169 588.5 L1194.9 580.7 L1197.4 560" stroke="#f9dd93" stroke-width="3.5" fill="none" stroke-linecap="round" stroke-linejoin="round"/>
<path d="M1189.8 505.8 L1182.1 542.2" stroke="#f9dd93" stroke-width="3.5" fill="none" stroke-linecap="round" stroke-linejoin="round"/>
<path d="M910 441 L910 477" stroke="#f9dd93" stroke-width="2.6" fill="none" stroke-linecap="round" stroke-linejoin="round"/>
<path d="M938.3 436 L938.3 459 L935 467" stroke="#f9dd93" stroke-width="2.6" fill="none" stroke-linecap="round" stroke-linejoin="round"/>
<path d="M757 670 L750 680 L740 690 L728 697" stroke="#f9dd93" stroke-width="2.6" fill="none" stroke-linecap="round" stroke-linejoin="round"/>
<path d="M728 697 L751.5 723.7 L775 750 L789.1 772 L791.8 790.8 L789.1 812.3 L802.5 823 L807.9 841.9 L824 863.3 L850.8 876.8 L869.6 876.8 L885.7 887.5 L896.5 900.9 L944.8 901.5 L987.8 898.2 L998.5 900.9 L1014.6 882.1 L1020 875" stroke="#f9dd93" stroke-width="2.6" fill="none" stroke-linecap="round" stroke-linejoin="round"/>
<path d="M822 406 L824 428" stroke="#f9dd93" stroke-width="2.6" fill="none" stroke-linecap="round" stroke-linejoin="round"/>
<path d="M994.4 411 L960 426.8 L940 436" stroke="#f9dd93" stroke-width="2.6" fill="none" stroke-linecap="round" stroke-linejoin="round"/>
<path d="M1001.7 406 L980 428 L960 449.7 L945 462" stroke="#f9dd93" stroke-width="2.6" fill="none" stroke-linecap="round" stroke-linejoin="round"/>
<path d="M1003.8 413.2 L1039.2 460" stroke="#f9dd93" stroke-width="2.6" fill="none" stroke-linecap="round" stroke-linejoin="round"/>
<path d="M1041.3 406 L1053.8 454.9" stroke="#f9dd93" stroke-width="2.6" fill="none" stroke-linecap="round" stroke-linejoin="round"/>
<path d="M1059 406 L1058 460" stroke="#f9dd93" stroke-width="2.6" fill="none" stroke-linecap="round" stroke-linejoin="round"/>
<path d="M1085 406 L1079.8 439.3 L1069.4 454.9" stroke="#f9dd93" stroke-width="2.6" fill="none" stroke-linecap="round" stroke-linejoin="round"/>
<path d="M1110 411 L1095.4 428.8 L1074.6 449.7 L1059 458" stroke="#f9dd93" stroke-width="2.6" fill="none" stroke-linecap="round" stroke-linejoin="round"/>
<path d="M1085 416.3 L1110 441.3" stroke="#f9dd93" stroke-width="2.6" fill="none" stroke-linecap="round" stroke-linejoin="round"/>
<path d="M1059 454.9 L1105.8 452.8" stroke="#f9dd93" stroke-width="2.6" fill="none" stroke-linecap="round" stroke-linejoin="round"/>
<path d="M1085 487.2 L1110 485" stroke="#f9dd93" stroke-width="2.6" fill="none" stroke-linecap="round" stroke-linejoin="round"/>
<path d="M1062 470.5 L1079.8 480.9 L1095.4 501.8 L1110 518.4" stroke="#f9dd93" stroke-width="2.6" fill="none" stroke-linecap="round" stroke-linejoin="round"/>
<path d="M1064 491.3 L1085 507 L1095.4 520" stroke="#f9dd93" stroke-width="2.6" fill="none" stroke-linecap="round" stroke-linejoin="round"/>
<path d="M1038 496 L1053.8 509 L1060 520" stroke="#f9dd93" stroke-width="2.6" fill="none" stroke-linecap="round" stroke-linejoin="round"/>
<path d="M1000 467 L1025 484.7" stroke="#f9dd93" stroke-width="2.6" fill="none" stroke-linecap="round" stroke-linejoin="round"/>
<path d="M1085 460 L1100 470 L1115 473" stroke="#f9dd93" stroke-width="2.6" fill="none" stroke-linecap="round" stroke-linejoin="round"/>
<path d="M1014 406 L1033 434 L1051.7 457 L1057.9 468.4 L1055.8 480.9 L1048.5 491.3 L1038 496" stroke="#eaa963" stroke-width="4.8" fill="none" stroke-linecap="round" stroke-linejoin="round"/>
<path d="M1014 406 L1033 434 L1051.7 457 L1057.9 468.4 L1055.8 480.9 L1048.5 491.3 L1038 496" stroke="#f5bb76" stroke-width="3.6" fill="none" stroke-linecap="round" stroke-linejoin="round"/>
<path d="M1038 496 L1022.5 501.8 L1010 508 L999.6 517.4 L998.3 523 L985.6 551.1 L972.8 586.9 L952.3 604.8 L934.4 622.7 L914 650.8 L905 672 L893 688 L870 705 L859 724 L848.2 750.6 L832 782.8 L807.9 817.7 L783.7 844.5 L756.9 871.4 L728 900" stroke="#eaa963" stroke-width="4.8" fill="none" stroke-linecap="round" stroke-linejoin="round"/>
<path d="M1038 496 L1022.5 501.8 L1010 508 L999.6 517.4 L998.3 523 L985.6 551.1 L972.8 586.9 L952.3 604.8 L934.4 622.7 L914 650.8 L905 672 L893 688 L870 705 L859 724 L848.2 750.6 L832 782.8 L807.9 817.7 L783.7 844.5 L756.9 871.4 L728 900" stroke="#f5bb76" stroke-width="3.6" fill="none" stroke-linecap="round" stroke-linejoin="round"/>
<path d="M1028 489 L1048 503 M1047 488 L1029 504" stroke="#e6a05e" stroke-width="5" stroke-linecap="round"/>
<path d="M1030 491 L1046 501 M1045 490 L1031 502" stroke="#d98b58" stroke-width="1.2" stroke-dasharray="1 2" opacity="0.7"/>
<ellipse cx="1136" cy="461.7" rx="7" ry="4.5" fill="#79acd4"/>
<path d="M1109.3 448.3 L1110.2 465.5 L1112.2 484.7 L1116 503.9 L1120.8 526.9 L1125.6 540.3 L1138 553.7 L1151.5 569 L1161 584.4 L1168.7 599.7 L1170 608 L1145.6 643 L1114.5 692.3 L1110.6 713 L1104 741.5 L1102.8 777.8 L1100.2 783 L1070 809.6 L1046.9 831.1 L1017.3 866 L1016 874.1 L1022.7 911.7 L1029.4 949.3 L1025.4 962" stroke="#2f22b6" stroke-width="2.8" fill="none" stroke-linejoin="round" stroke-linecap="round"/>
<path d="M1106.4 443.5 L1115 439.6 L1117.9 442.5 L1114 449.2 L1109.3 448.3 L1106.4 443.5" stroke="#2f22b6" stroke-width="2.4" fill="none" stroke-linejoin="round"/>
<text x="848" y="420" font-size="7.6" font-family="Liberation Sans,Arial,sans-serif" fill="#5a5a5a" stroke="#f2f0ec" stroke-width="2" paint-order="stroke" font-weight="700" letter-spacing="0.8">PARQUE DAS</text>
<text x="847" y="429.5" font-size="7.6" font-family="Liberation Sans,Arial,sans-serif" fill="#5a5a5a" stroke="#f2f0ec" stroke-width="2" paint-order="stroke" font-weight="700" letter-spacing="0.8">ESMERALDAS</text>
<text x="1127" y="497" font-size="7.6" font-family="Liberation Sans,Arial,sans-serif" fill="#5a5a5a" stroke="#f2f0ec" stroke-width="2" paint-order="stroke" font-weight="700" letter-spacing="0.8">JARDIM</text>
<text x="1118.5" y="506.5" font-size="7.6" font-family="Liberation Sans,Arial,sans-serif" fill="#5a5a5a" stroke="#f2f0ec" stroke-width="2" paint-order="stroke" font-weight="700" letter-spacing="0.8">SANTA LÚCIA</text>
<text x="729.5" y="689" font-size="11" font-family="Liberation Sans,Arial,sans-serif" fill="#555" stroke="#eeece8" stroke-width="2" paint-order="stroke">estinga</text>
<text transform="translate(1131,542) rotate(8.8)" font-family="Liberation Sans,Arial,sans-serif" fill="#777" font-size="6.6" font-size="7.1">Rodovia Engenheiro Ronan Rocha</text>
<text transform="translate(975,585) rotate(-62)" font-family="Liberation Sans,Arial,sans-serif" fill="#777" font-size="6.6">Rodovia Cândido Portinari</text>
</svg>
<div class="a" style="left:637px;top:8.7px;width:23.3px;height:22.7px;border-radius:4px;background:#fff;box-shadow:0 0 0 1.5px rgba(0,0,0,0.08)"></div>
<svg class="a" style="left:637px;top:8.7px" width="24" height="23" viewBox="0 0 24 23"><g fill="#222"><path d="M4 3.5 L10 3.5 L8 5.5 L10.5 8 L9 9.5 L6.5 7 L4 9.5 Z"/><path d="M20 3.5 L14 3.5 L16 5.5 L13.5 8 L15 9.5 L17.5 7 L20 9.5 Z"/><path d="M4 19.5 L10 19.5 L8 17.5 L10.5 15 L9 13.5 L6.5 16 L4 13.5 Z"/><path d="M20 19.5 L14 19.5 L16 17.5 L13.5 15 L15 13.5 L17.5 16 L20 13.5 Z"/></g></svg>
<div class="a" style="left:636.8px;top:463.9px;width:23.8px;height:45px;border-radius:4px;background:#fff;box-shadow:0 0 0 1.5px rgba(0,0,0,0.08)"></div>
<div class="a" style="left:637px;top:486.5px;width:23.8px;height:1px;background:#eee"></div>
<svg class="a" style="left:637px;top:464px" width="24" height="45" viewBox="0 0 24 45"><path d="M12 7 V15 M8 11 H16 M8 33.8 H16" stroke="#222" stroke-width="2"/></svg>
<div class="a" style="left:405px;top:525.5px;width:253.5px;height:18px;border-radius:9px;background:#fff"></div>
<div class="a t" style="left:411px;top:529.5px;font-size:9.65px;color:#333;letter-spacing:-0.05px">MapLibre | © MapTiler © OpenStreetMap contributors</div>
<svg class="a" style="left:644.5px;top:528.5px" width="12" height="12" viewBox="0 0 12 12"><circle cx="6" cy="6" r="5.8" fill="#000"/><circle cx="6" cy="3.2" r="1.1" fill="#fff"/><path d="M4.6 5.2 H6.8 V9.2 M4.8 9.3 H7.4" stroke="#fff" stroke-width="1.3" fill="none"/></svg>
</div>


</body></html>
